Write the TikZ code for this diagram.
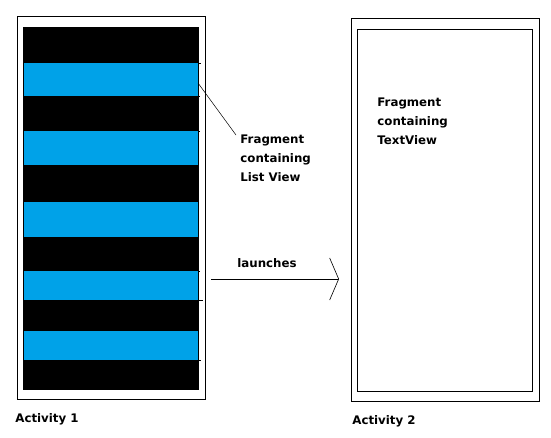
\documentclass[tikz,border=0pt]{standalone}
\usepackage{fontspec}
\setmainfont{DejaVu Sans}
\usetikzlibrary{arrows.meta}
\definecolor{rowblue}{HTML}{00A2E8}
\begin{document}
\begin{tikzpicture}[x=1pt, y=-1pt, line width=0.8pt,
        label/.style = {font=\bfseries\fontsize{11.8}{19}\selectfont, align=left, inner sep=0pt, anchor=base west},
        frame/.style = {draw, fill=white},
        tick/.style = {line width=0.5pt}]
    \useasboundingbox (0,0) rectangle (551,437);
    % activity 1 with the list
    \draw[frame] (17,16) rectangle (205,399);
    \fill (23,27) rectangle (199,390);
    \foreach \top/\bot in {63/96, 131/165, 202/237, 271/300, 331/360}
        \fill[rowblue] (24,\top) rectangle (198,\bot);
    \foreach \y/\len in {63/3, 96/2, 131/2, 271/2, 300/5, 360/3}
        \draw[tick] (198,\y) -- ++(\len,0);
    \node[label] (act1) at (15,422) {Activity 1};
    % activity 2 with the text view (base is the last line)
    \draw[frame] (351,18) rectangle (539,401);
    \draw (357,29) rectangle (532,391);
    \node[label] (frag2) at (377,144) {Fragment\\containing\\TextView};
    \node[label] (act2) at (352,424) {Activity 2};
    % pointer to the list fragment
    \node[label] (frag1) at (240,181) {Fragment\\containing\\List View};
    \coordinate (row) at (198,83);
    \coordinate (tip) at (236,135);
    \draw[line width=0.5pt] (row) -- (tip);
    % launch arrow
    \coordinate (from) at (211,279);
    \coordinate (to) at (339,279);
    \draw[-{Straight Barb[length=9pt, width=42pt, line width=0.6pt]}] (from) -- (to);
    \node[label] (launch) at (237,267) {launches};
\end{tikzpicture}
\end{document}
